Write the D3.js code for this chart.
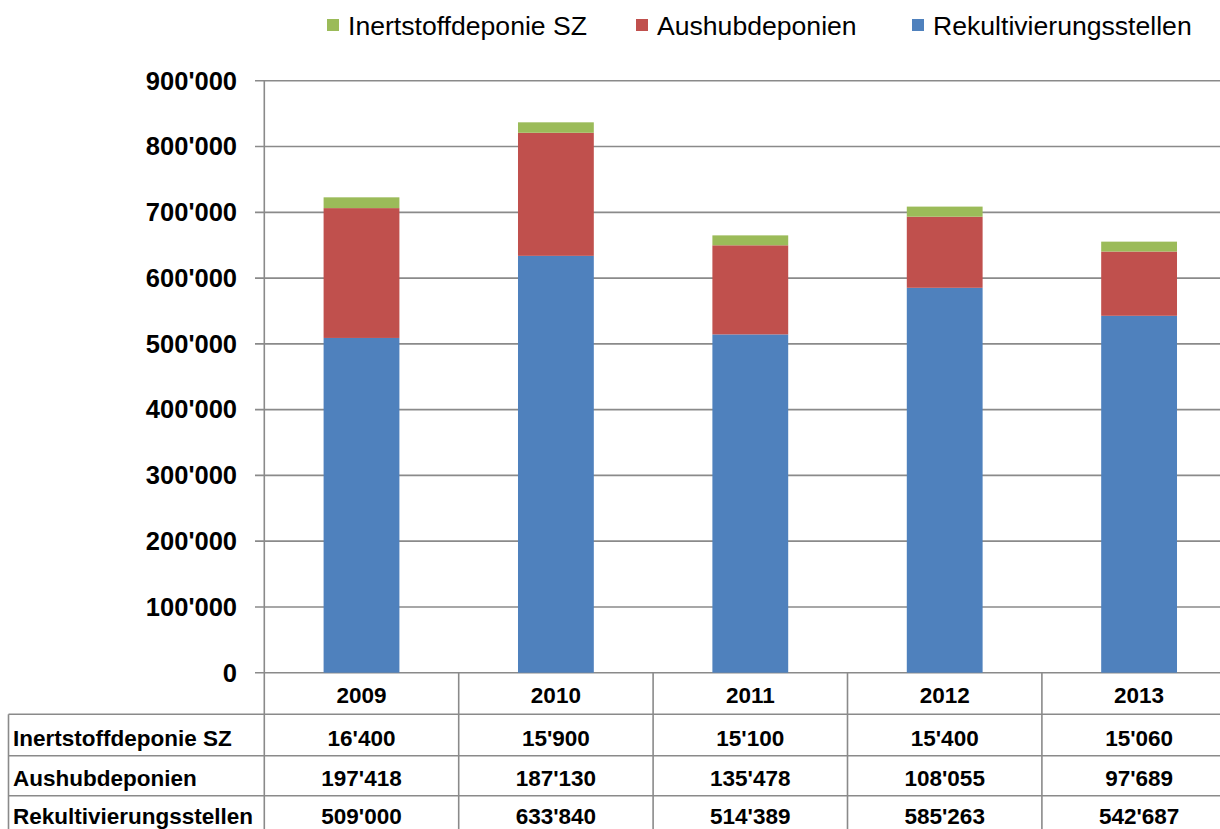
<!DOCTYPE html>
<html>
  <head>
    <meta charset="UTF-8">
    <title>Deponien</title>
    <script src="https://cdn.jsdelivr.net/npm/d3@7"></script>
    <style>
      body, html { margin:0; padding:0; background:#fff; }
      text { font-family: "Liberation Sans", Arial, sans-serif; fill:#000; }
      .tick-label { font-size:25.5px; font-weight:bold; }
      .cell { font-size:22.5px; font-weight:bold; }
      .legend { font-size:26.6px; }
    </style>
  </head>
  <body>
  <div id="chart"></div>
<script type="text/javascript">

var years = ['2009', '2010', '2011', '2012', '2013'];
var seriesNames = ['Rekultivierungsstellen', 'Aushubdeponien', 'Inertstoffdeponie SZ'];
var rekultivierung = [509000, 633840, 514389, 585263, 542687];
var aushub = [197418, 187130, 135478, 108055, 97689];
var inertstoff = [16400, 15900, 15100, 15400, 15060];
var yTicks = [0, 100000, 200000, 300000, 400000, 500000, 600000, 700000, 800000, 900000];
var colors = { 'Rekultivierungsstellen': '#4f81bd', 'Aushubdeponien': '#c0504d', 'Inertstoffdeponie SZ': '#9bbb59' };

var W = 1220, H = 829;
var svg = d3.select('#chart').append('svg').attr('width', W).attr('height', H);

var x = d3.scaleBand().domain(years).range([264.3, 264.3 + 5 * 194.4]);
var y = d3.scaleLinear().domain([0, 900000]).range([672.7, 80.8]);
var fmt = function(v) { return d3.format(',')(v).replace(/,/g, "'"); };
var grid = '#8a8a8a';

// rows for the stack
var rows = years.map(function(yr, i) {
  return { year: yr, 'Rekultivierungsstellen': rekultivierung[i], 'Aushubdeponien': aushub[i], 'Inertstoffdeponie SZ': inertstoff[i] };
});
var stack = d3.stack().keys(seriesNames)(rows);

// gridlines + tick labels
svg.append('g').selectAll('line').data(yTicks).enter().append('line')
  .attr('x1', 255).attr('x2', W)
  .attr('y1', function(d){ return y(d); }).attr('y2', function(d){ return y(d); })
  .attr('stroke', grid).attr('stroke-width', 1.6);

svg.append('g').selectAll('text').data(yTicks).enter().append('text')
  .attr('class', 'tick-label')
  .attr('x', 237).attr('y', function(d){ return y(d) + 8.8; })
  .attr('text-anchor', 'end')
  .text(fmt);

// bars
var bw = x.bandwidth() * 0.39;
svg.append('g').selectAll('g').data(stack).enter().append('g')
  .attr('fill', function(s){ return colors[s.key]; })
  .selectAll('rect').data(function(s){ return s; }).enter().append('rect')
  .attr('x', function(d){ return x(d.data.year) + (x.bandwidth() - bw) / 2; })
  .attr('width', bw)
  .attr('y', function(d){ return y(d[1]); })
  .attr('height', function(d){ return y(d[0]) - y(d[1]); });

// axis / table lines
var tbl = svg.append('g').attr('stroke', grid).attr('stroke-width', 1.6);
var edges = years.map(function(yr){ return x(yr); });
edges.push(x(years[years.length-1]) + x.bandwidth());
tbl.selectAll('line.v').data(edges).enter().append('line')
  .attr('x1', function(d){ return d; }).attr('x2', function(d){ return d; })
  .attr('y1', function(d, i){ return i === 0 ? y(900000) : y(0); }).attr('y2', H);
var rowLines = [714.3, 755.7, 795.7];
tbl.selectAll('line.h').data(rowLines).enter().append('line')
  .attr('x1', 8.5).attr('x2', W)
  .attr('y1', function(d){ return d; }).attr('y2', function(d){ return d; });
tbl.append('line').attr('x1', 8.5).attr('x2', 8.5).attr('y1', rowLines[0]).attr('y2', H);

// table text
svg.append('g').selectAll('text').data(years).enter().append('text')
  .attr('class', 'cell').attr('text-anchor', 'middle')
  .attr('x', function(d){ return x(d) + x.bandwidth() / 2; }).attr('y', 703)
  .text(function(d){ return d; });

var tableRows = [
  { name: 'Inertstoffdeponie SZ', values: inertstoff, base: 746 },
  { name: 'Aushubdeponien', values: aushub, base: 786 },
  { name: 'Rekultivierungsstellen', values: rekultivierung, base: 823.5 }
];
tableRows.forEach(function(r) {
  svg.append('text').attr('class', 'cell').attr('x', 13).attr('y', r.base).text(r.name);
  svg.append('g').selectAll('text').data(r.values).enter().append('text')
    .attr('class', 'cell').attr('text-anchor', 'middle')
    .attr('x', function(d, i){ return x(years[i]) + x.bandwidth() / 2; })
    .attr('y', r.base)
    .text(fmt);
});

// legend
var legendItems = [
  { name: 'Inertstoffdeponie SZ', x: 327 },
  { name: 'Aushubdeponien', x: 636 },
  { name: 'Rekultivierungsstellen', x: 912 }
];
var lg = svg.append('g').selectAll('g').data(legendItems).enter().append('g');
lg.append('rect').attr('x', function(d){ return d.x; }).attr('y', 19).attr('width', 12).attr('height', 12)
  .attr('fill', function(d){ return colors[d.name]; });
lg.append('text').attr('class', 'legend').attr('x', function(d){ return d.x + 21; }).attr('y', 35)
  .text(function(d){ return d.name; });

</script>
  </body>
</html>
